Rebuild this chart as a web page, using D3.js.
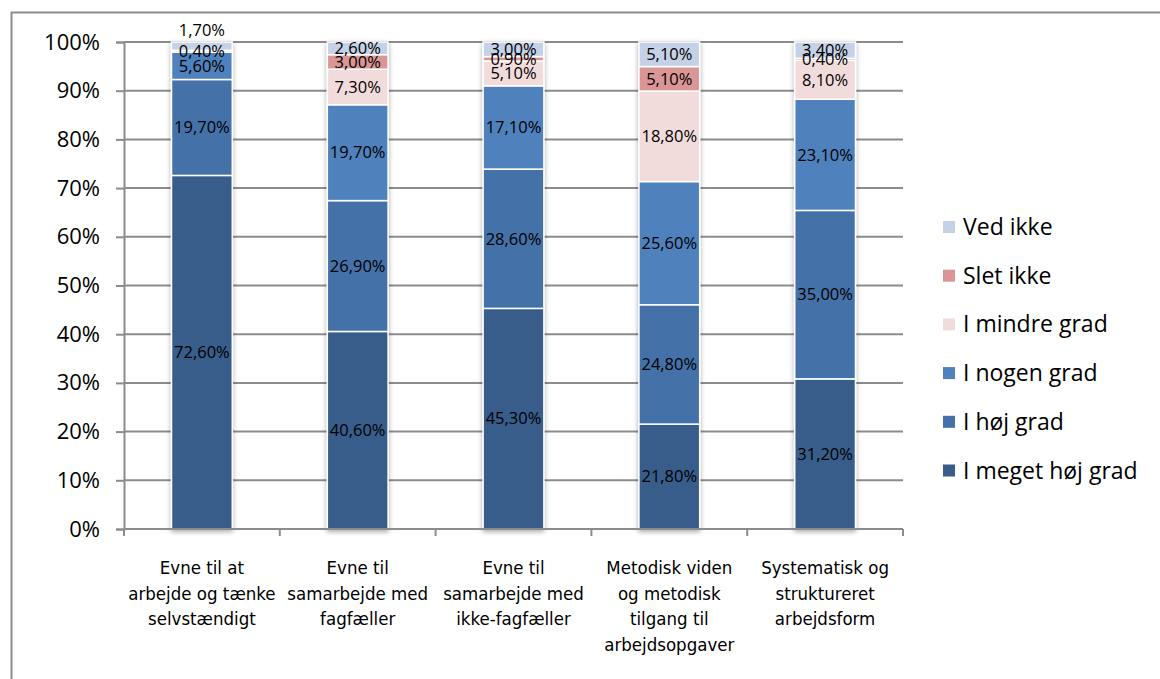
<!DOCTYPE html>
<html>
<head>
<meta charset="utf-8">
<title>Kompetencer</title>
<style>
  body { margin: 0; background: #fff; }
  svg text { font-family: "Open Sans", sans-serif; fill: #000; }
  .cat { font-family: "DejaVu Sans Condensed", "DejaVu Sans", sans-serif; font-stretch: condensed; }
</style>
</head>
<body>
<div id="chart"></div>
<script src="https://d3js.org/d3.v7.min.js"></script>
<script>
// categories (x axis), each label split into lines
var categories = [
  ["Evne til at", "arbejde og tænke", "selvstændigt"],
  ["Evne til", "samarbejde med", "fagfæller"],
  ["Evne til", "samarbejde med", "ikke-fagfæller"],
  ["Metodisk viden", "og metodisk", "tilgang til", "arbejdsopgaver"],
  ["Systematisk og", "struktureret", "arbejdsform"]
];
// series, bottom to top (values in %)
var seriesNames = ["I meget høj grad", "I høj grad", "I nogen grad", "I mindre grad", "Slet ikke", "Ved ikke"];
var meget = [72.6, 40.6, 45.3, 21.8, 31.2];
var hoj = [19.7, 26.9, 28.6, 24.8, 35.0];
var nogen = [5.6, 19.7, 17.1, 25.6, 23.1];
var mindre = [0.4, 7.3, 5.1, 18.8, 8.1];
var slet = [0, 3.0, 0.9, 5.1, 0.4];
var vedIkke = [1.7, 2.6, 3.0, 5.1, 3.4];
var yTicks = [0, 10, 20, 30, 40, 50, 60, 70, 80, 90, 100];

var colors = ["#385d8a", "#4471a9", "#4f81bd", "#f2dcdb", "#d99694", "#c5d1e6"];
var allSeries = [meget, hoj, nogen, mindre, slet, vedIkke];

var W = 1160, H = 679;
var svg = d3.select("#chart").append("svg").attr("width", W).attr("height", H);

// outer chart frame
svg.append("rect").attr("x", 11.5).attr("y", 12.5).attr("width", 1160).attr("height", 700)
  .attr("fill", "none").attr("stroke", "#8c8c8c").attr("stroke-width", 2);

var plotLeft = 124, plotRight = 903, plotTop = 42, plotBottom = 529;

var x = d3.scaleBand().domain(d3.range(categories.length)).range([plotLeft, plotRight]).paddingInner(0.61).paddingOuter(0.305);
var y = d3.scaleLinear().domain([0, 100]).range([plotBottom, plotTop]);

// shadow for bars
var defs = svg.append("defs");
var f = defs.append("filter").attr("id", "shadow").attr("x", "-20%").attr("y", "-5%").attr("width", "140%").attr("height", "110%");
f.append("feGaussianBlur").attr("in", "SourceAlpha").attr("stdDeviation", 2.5);
f.append("feOffset").attr("dx", 0).attr("dy", 1.5).attr("result", "b");
f.append("feComponentTransfer").append("feFuncA").attr("type", "linear").attr("slope", 0.35);
var m = f.append("feMerge");
m.append("feMergeNode");
m.append("feMergeNode").attr("in", "SourceGraphic");

// gridlines
svg.append("g").selectAll("line").data(yTicks.slice(1)).enter().append("line")
  .attr("x1", plotLeft).attr("x2", plotRight)
  .attr("y1", function(d){ return y(d); }).attr("y2", function(d){ return y(d); })
  .attr("stroke", "#8c8c8c").attr("stroke-width", 2);

// y axis
var yAxis = svg.append("g").attr("transform", "translate(" + plotLeft + ",0)")
  .call(d3.axisLeft(y).tickValues(yTicks).tickSize(8).tickPadding(16).tickFormat(function(d){ return d + "%"; }));
yAxis.select(".domain").attr("stroke", "#8c8c8c").attr("stroke-width", 2);
yAxis.selectAll(".tick line").attr("stroke", "#8c8c8c").attr("stroke-width", 2);
yAxis.selectAll("text").style("font-size", "22px").style("font-family", "Open Sans");

// stacked data, normalised to 100% per column
var stacked = categories.map(function(c, i){
  var total = d3.sum(allSeries, function(s){ return s[i]; });
  var acc = 0;
  return allSeries.map(function(s, k){
    var v = s[i] / total * 100;
    var seg = { cat: i, k: k, raw: s[i], y0: acc, y1: acc + v };
    acc += v;
    return seg;
  });
});

var bars = svg.append("g").selectAll("g").data(stacked).enter().append("g").attr("filter", "url(#shadow)");
bars.selectAll("rect").data(function(d){ return d.filter(function(s){ return s.raw > 0; }); }).enter().append("rect")
  .attr("x", function(d){ return x(d.cat); })
  .attr("width", x.bandwidth())
  .attr("y", function(d){ return y(d.y1); })
  .attr("height", function(d){ return y(d.y0) - y(d.y1); })
  .attr("fill", function(d){ return colors[d.k]; })
  .attr("stroke", "#fff").attr("stroke-width", 1.5);

// x axis
var xAxis = svg.append("g").attr("transform", "translate(0," + plotBottom + ")");
xAxis.append("line").attr("x1", plotLeft).attr("x2", plotRight).attr("stroke", "#8c8c8c").attr("stroke-width", 2);
var step = x.step();
xAxis.selectAll(".xt").data(d3.range(categories.length + 1)).enter().append("line")
  .attr("x1", function(d){ return plotLeft + d * step; }).attr("x2", function(d){ return plotLeft + d * step; })
  .attr("y1", 0).attr("y2", 7).attr("stroke", "#8c8c8c").attr("stroke-width", 2);

// data labels (Excel moved the first 1,70% label above the column)
var nudge = { "0-5": -16 };
var labels = svg.append("g");
stacked.forEach(function(col){
  col.forEach(function(s){
    if (s.raw <= 0) return;
    labels.append("text")
      .attr("x", x(s.cat) + x.bandwidth() / 2)
      .attr("y", y((s.y0 + s.y1) / 2) + (nudge[s.cat + "-" + s.k] || 0))
      .attr("dy", "0.35em")
      .attr("text-anchor", "middle")
      .style("font-size", "16.5px")
      .text(d3.format(".2f")(s.raw).replace(".", ",") + "%");
  });
});

// category labels
categories.forEach(function(lines, i){
  var t = svg.append("text").attr("class", "cat").attr("text-anchor", "middle")
    .attr("x", x(i) + x.bandwidth() / 2).attr("y", 574).style("font-size", "18.5px");
  lines.forEach(function(l, j){
    t.append("tspan").attr("x", x(i) + x.bandwidth() / 2).attr("dy", j === 0 ? 0 : 25.5).text(l);
  });
});

// legend, top entry is the last series
var legend = svg.append("g").attr("transform", "translate(943,227)");
seriesNames.slice().reverse().forEach(function(name, j){
  var k = seriesNames.length - 1 - j;
  var g = legend.append("g").attr("transform", "translate(0," + (j * 48.7) + ")");
  g.append("rect").attr("x", 0).attr("y", -6).attr("width", 12).attr("height", 12).attr("fill", colors[k]);
  g.append("text").attr("x", 20).attr("dy", "0.35em").style("font-size", "23px").text(name);
});
</script>
</body>
</html>
